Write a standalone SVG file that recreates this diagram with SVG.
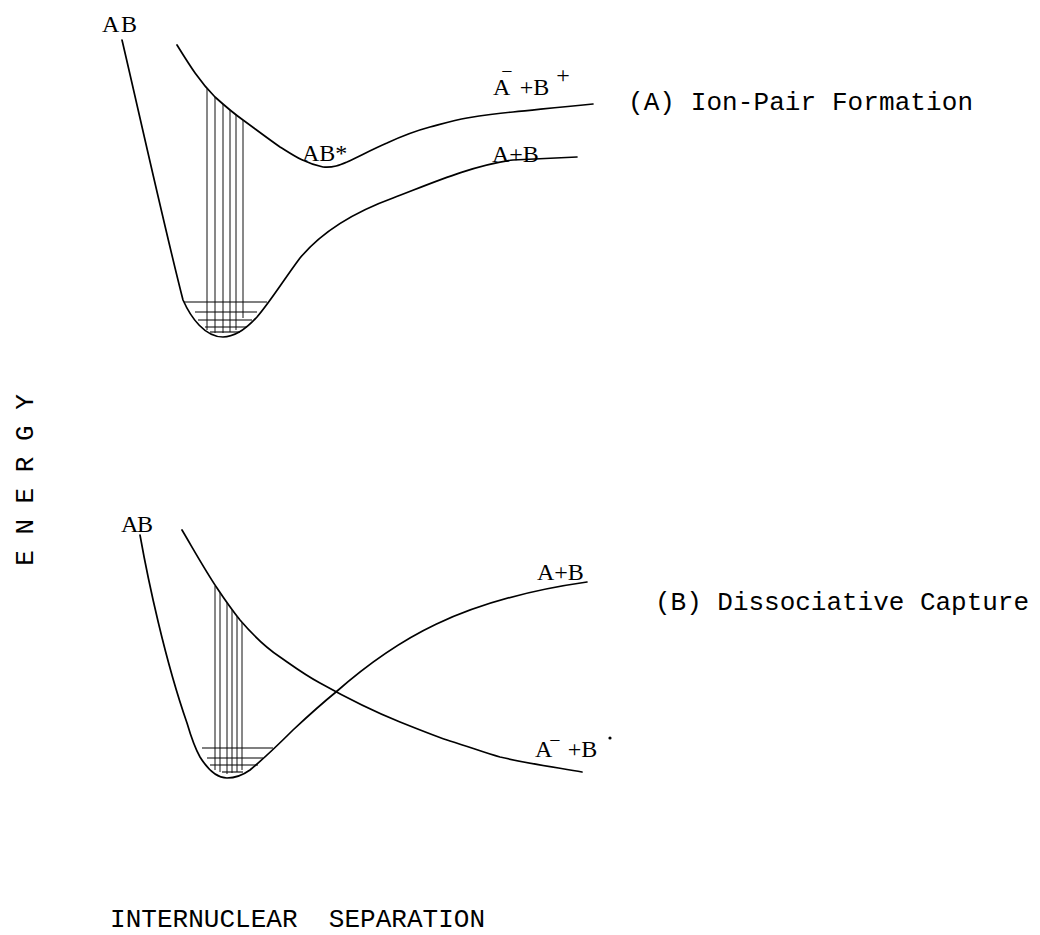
<svg xmlns="http://www.w3.org/2000/svg" width="1040" height="935" viewBox="0 0 1040 935">
<style>
.c{fill:none;stroke:#000;stroke-width:1.7;stroke-linecap:round;stroke-linejoin:round}
.v{fill:none;stroke:#111;stroke-width:1}
.h{fill:none;stroke:#000;stroke-width:1.1}
.m{font-family:"Liberation Mono","Courier New",monospace;font-size:26px;fill:#000}
.s{font-family:"Liberation Serif","Times New Roman",serif;font-size:24px;fill:#000}
</style>
<rect width="1040" height="935" fill="#fff"/>
<g id="panelA">
<g id="curvesA">
<path class="c" d="M122,40 C135,95 165,230 183,300 C191,318 205,337 223,337 C235,337 247,328 257,317 C270,302 285,278 300,258 C325,228 360,210 393,198 C430,184 470,166 513,160 L577,157"/>
<path class="c" d="M177,45 C190,66 200,82 215,97 C225,106 233,113 243,120 C258,131 270,140 280,147 C290,153 303,163 323,167 C333,168 340,165 347,162 C360,156 373,149 387,143 C402,136 415,131 430,127 C445,123 455,120 467,118 C485,115 500,113 513,112 C535,110 550,108 593,104"/>
</g>
<g id="levelsA">
<line class="h" x1="184" y1="302" x2="267" y2="302"/>
<line class="h" x1="195" y1="312" x2="257" y2="312"/>
<line class="h" x1="198" y1="320" x2="252" y2="320"/>
<line class="h" x1="205" y1="327" x2="247" y2="327"/>
<line class="h" x1="210" y1="332" x2="240" y2="332"/>
</g>
<g id="transitionsA">
<line class="v" x1="207" y1="89" x2="207" y2="330"/>
<line class="v" x1="215" y1="97" x2="215" y2="333"/>
<line class="v" x1="223" y1="104" x2="223" y2="333"/>
<line class="v" x1="230" y1="110" x2="230" y2="332"/>
<line class="v" x1="236" y1="115" x2="236" y2="330"/>
<line class="v" x1="243" y1="120" x2="243" y2="318"/>
</g>
<g id="labelsA">
<text class="s" x="102" y="32" textLength="35">AB</text>
<text class="s" x="302" y="161" font-size="22">AB*</text>
<text class="s" x="493" y="95">A<tspan font-size="20" dx="-9" dy="-17">−</tspan><tspan font-size="24" dx="7" dy="17">+B</tspan><tspan dx="7" dy="-12">+</tspan></text>
<text class="s" x="492" y="162">A+B</text>
<text class="m" x="628" y="110" textLength="345">(A) Ion-Pair Formation</text>
</g>
</g>
<g id="panelB">
<g id="curvesB">
<path class="c" d="M140,535 C148,580 165,660 187,723 C192,740 196,750 200,757 C205,765 215,778 227,778 C236,778 243,775 250,770 C262,760 278,745 293,730 C308,716 320,705 336,692 C395,640 460,600 587,582"/>
<path class="c" d="M182,530 C195,552 205,570 217,588 C225,600 232,610 240,620 C252,634 265,647 280,657 C293,666 305,675 320,683 C345,697 375,712 400,722 C420,730 440,738 450,741 C470,747 485,753 500,757 C530,764 560,768 582,772"/>
</g>
<g id="levelsB">
<line class="h" x1="202" y1="748" x2="273" y2="748"/>
<line class="h" x1="207" y1="758" x2="263" y2="758"/>
<line class="h" x1="210" y1="765" x2="258" y2="765"/>
<line class="h" x1="222" y1="772" x2="243" y2="772"/>
</g>
<g id="transitionsB">
<line class="v" x1="215" y1="586" x2="215" y2="770"/>
<line class="v" x1="220" y1="593" x2="220" y2="772"/>
<line class="v" x1="227" y1="603" x2="227" y2="774"/>
<line class="v" x1="232" y1="609" x2="232" y2="773"/>
<line class="v" x1="237" y1="616" x2="237" y2="772"/>
<line class="v" x1="242" y1="622" x2="242" y2="770"/>
</g>
<g id="labelsB">
<text class="s" x="121" y="532" textLength="32">AB</text>
<text class="s" x="537" y="580">A+B</text>
<text class="s" x="535" y="757">A<tspan font-size="20" dx="-3" dy="-10">−</tspan><tspan font-size="24" dx="7" dy="10">+B</tspan></text>
<circle cx="610" cy="738" r="1.6" fill="#000"/>
<text class="m" x="655" y="610" textLength="374">(B) Dissociative Capture</text>
</g>
</g>
<g id="axes">
<text class="m" transform="translate(33,480) rotate(-90)" text-anchor="middle">E N E R G Y</text>
<text class="m" x="110" y="927" textLength="375">INTERNUCLEAR&#160;&#160;SEPARATION</text>
</g>
</svg>
